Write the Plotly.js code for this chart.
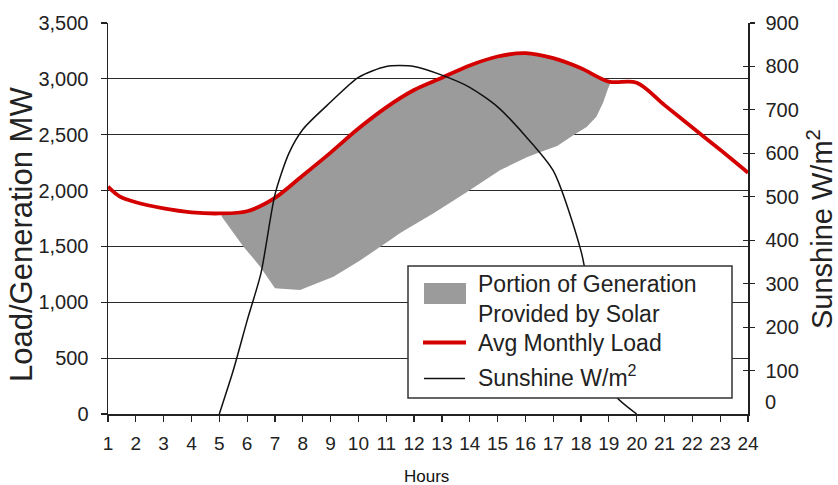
<!DOCTYPE html>
<html>
<head>
<meta charset="utf-8">
<script src="https://cdn.plot.ly/plotly-3.0.1.min.js"></script>
<style>html,body{margin:0;padding:0;background:#fff;}#chart{width:838px;height:485px;}</style>
</head>
<body>
<div id="chart"></div>
<script>
// Hourly load (MW), left axis
const loadHours = [1, 1.4, 2, 3, 4, 5, 6, 7, 8, 9, 10, 11, 12, 13, 14, 15, 16, 17, 18, 19, 20, 21, 22, 23, 24];
const loadMW = [2035, 1950, 1895, 1840, 1805, 1795, 1815, 1935, 2135, 2340, 2555, 2745, 2900, 3010, 3120, 3200, 3230, 3185, 3095, 2975, 2965, 2765, 2565, 2365, 2160];

// Sunshine (W/m2), right axis
const sunHours = [5, 5.5, 6, 6.5, 7, 7.5, 8, 9, 10, 11, 12, 13, 14, 15, 16, 17, 18, 19, 20];
const sunWm2 = [0, 100, 215, 325, 505, 600, 655, 718, 775, 800, 800, 780, 752, 707, 640, 560, 375, 60, 0];

// Solar share region: upper edge (along load), lower edge (right to left)
const solarTopHours = [5.09, 5.5, 6, 6.5, 7, 7.5, 8, 9, 10, 11, 12, 13, 14, 15, 15.7, 16, 17, 18, 19, 19.05];
const solarTopMW = [1795, 1800, 1815, 1850, 1935, 2045, 2135, 2340, 2555, 2745, 2900, 3010, 3120, 3200, 3235, 3230, 3185, 3095, 2975, 2965];
const solarBottomHours = [19.05, 18.95, 18.8, 18.55, 18.2, 17.75, 17.14, 16.54, 16.07, 15.1, 13.9, 12.7, 11.5, 11.14, 10.0, 9.1, 7.9, 7.0, 6.47, 5.87, 5.09];
const solarBottomMW = [2960, 2900, 2790, 2660, 2570, 2500, 2400, 2345, 2300, 2184, 1987, 1797, 1620, 1558, 1364, 1229, 1110, 1125, 1319, 1498, 1766];

const xTicks = [1,2,3,4,5,6,7,8,9,10,11,12,13,14,15,16,17,18,19,20,21,22,23,24];
const rightTicks = [100,200,300,400,500,600,700,800,900];
const seriesNames = ['Portion of Generation<br>Provided by Solar', 'Avg Monthly Load', 'Sunshine W/m<sup>2</sup>'];

const FONT = 'Liberation Sans, Arial, Helvetica, sans-serif';
const INK = '#222222';
const SOLAR = '#9b9b9b', LOADC = '#d40000', SUNC = '#111111';

// plot-area pixel frame (for placing legend/labels in paper units)
const PL = 108, PR = 748, PT = 23, PB = 414;
const px = v => (v - PL) / (PR - PL);
const py = v => (PB - v) / (PB - PT);

const traces = [
  {
    x: solarTopHours.concat(solarBottomHours),
    y: solarTopMW.concat(solarBottomMW),
    type: 'scatter', mode: 'none', fill: 'toself', fillcolor: SOLAR,
    name: seriesNames[0], xaxis: 'x', yaxis: 'y', hoverinfo: 'skip'
  },
  {
    x: loadHours, y: loadMW, type: 'scatter', mode: 'lines',
    line: {color: LOADC, width: 3.8, shape: 'spline', smoothing: 0.9},
    name: seriesNames[1], xaxis: 'x', yaxis: 'y'
  },
  {
    x: sunHours, y: sunWm2, type: 'scatter', mode: 'lines',
    line: {color: SUNC, width: 1.5, shape: 'spline', smoothing: 0.7},
    name: seriesNames[2], xaxis: 'x', yaxis: 'y2'
  },
  {
    x: [null], y: [null], type: 'scatter', mode: 'lines', showlegend: false,
    xaxis: 'x', yaxis: 'y3', hoverinfo: 'skip'
  }
];

const legFont = {family: FONT, size: 23, color: INK};
const layout = {
  width: 838, height: 485,
  margin: {l: 108, r: 90, t: 23, b: 71, pad: 0},
  paper_bgcolor: '#ffffff', plot_bgcolor: '#ffffff',
  font: {family: FONT, color: INK, size: 20},
  showlegend: false,
  xaxis: {
    range: [1, 24], tickvals: xTicks, ticktext: xTicks.map(String),
    showline: true, linecolor: INK, linewidth: 1.5,
    ticks: 'outside', ticklen: 6, tickcolor: INK, tickwidth: 1.2,
    ticklabelstandoff: 6,
    showgrid: false, zeroline: false,
    tickfont: {family: FONT, size: 19, color: INK}
  },
  yaxis: {
    range: [0, 3500], dtick: 500, tick0: 0, tickformat: ',',
    showline: true, linecolor: INK, linewidth: 1.5,
    ticks: 'outside', ticklen: 6, tickcolor: INK, tickwidth: 1.2,
    ticklabelstandoff: 8,
    showgrid: true, gridcolor: '#2a2a2a', gridwidth: 1.1, zeroline: false,
    tickfont: {family: FONT, size: 20, color: INK}
  },
  yaxis2: {
    overlaying: 'y', side: 'right', range: [0, 900], tickvals: rightTicks,
    showline: true, linecolor: INK, linewidth: 1.5,
    ticks: 'outside', ticklen: 5, tickcolor: INK, tickwidth: 1.2,
    ticklabelstandoff: 7,
    showgrid: false, zeroline: false,
    tickfont: {family: FONT, size: 20, color: INK}
  },
  yaxis3: {
    overlaying: 'y', side: 'right', range: [0, 900], tickvals: rightTicks,
    showline: false, ticks: 'inside', ticklen: 5, tickcolor: INK, tickwidth: 1.2,
    showticklabels: false, showgrid: false, zeroline: false
  },
  shapes: [
    // legend box
    {type: 'rect', xref: 'paper', yref: 'paper', x0: px(408), x1: px(732), y0: py(398), y1: py(266),
     fillcolor: '#ffffff', line: {color: '#333333', width: 1.5}, layer: 'above'},
    // legend swatches
    {type: 'rect', xref: 'paper', yref: 'paper', x0: px(424), x1: px(466), y0: py(304), y1: py(283),
     fillcolor: SOLAR, line: {width: 0}, layer: 'above'},
    {type: 'line', xref: 'paper', yref: 'paper', x0: px(423), x1: px(466), y0: py(342.5), y1: py(342.5),
     line: {color: LOADC, width: 4}, layer: 'above'},
    {type: 'line', xref: 'paper', yref: 'paper', x0: px(424), x1: px(465), y0: py(378.5), y1: py(378.5),
     line: {color: SUNC, width: 1.5}, layer: 'above'}
  ],
  annotations: [
    {text: 'Load/Generation MW', xref: 'paper', yref: 'paper', x: px(21), y: py(235),
     textangle: -90, showarrow: false, font: {family: FONT, size: 31, color: INK},
     xanchor: 'center', yanchor: 'middle'},
    {text: seriesNames[2], xref: 'paper', yref: 'paper', x: px(820), y: py(229),
     textangle: -90, showarrow: false, font: {family: FONT, size: 29, color: INK},
     xanchor: 'center', yanchor: 'middle'},
    {text: 'Hours', xref: 'paper', yref: 'paper', x: px(426), y: py(476),
     showarrow: false, font: {family: FONT, size: 17, color: '#111'},
     xanchor: 'center', yanchor: 'middle'},
    {text: '0', xref: 'paper', yref: 'y2', x: 1, y: 0, xshift: 15, yshift: 12,
     xanchor: 'left', yanchor: 'middle', showarrow: false,
     font: {family: FONT, size: 20, color: INK}},
    // legend labels
    {text: seriesNames[0], xref: 'paper', yref: 'paper', x: px(476), y: py(298.5),
     xanchor: 'left', yanchor: 'middle', align: 'left', showarrow: false, font: legFont},
    {text: seriesNames[1], xref: 'paper', yref: 'paper', x: px(476), y: py(343),
     xanchor: 'left', yanchor: 'middle', showarrow: false, font: legFont},
    {text: seriesNames[2], xref: 'paper', yref: 'paper', x: px(476), y: py(376),
     xanchor: 'left', yanchor: 'middle', showarrow: false, font: legFont}
  ]
};

Plotly.newPlot('chart', traces, layout, {displayModeBar: false, staticPlot: true});
</script>
</body>
</html>
